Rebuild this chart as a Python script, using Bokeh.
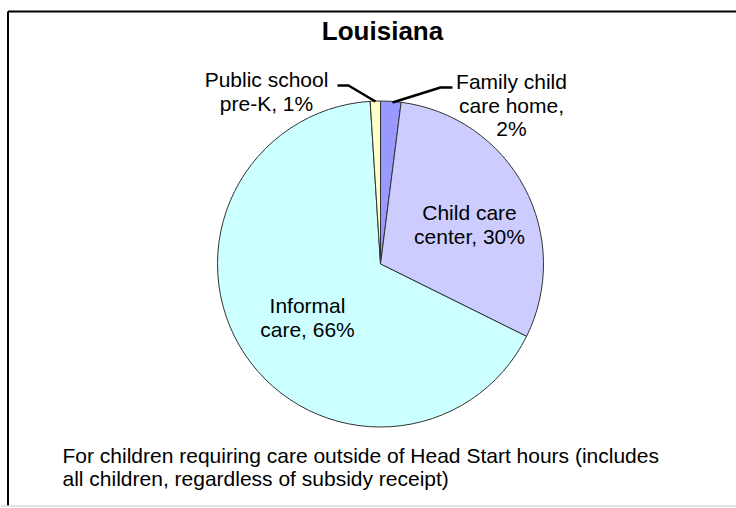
import numpy as np
from bokeh.plotting import figure
from bokeh.models import Range1d, ColumnDataSource
from bokeh.core.properties import value
from bokeh.embed import file_html
from bokeh.resources import INLINE

# ---- data ----
title_text = "Louisiana"
categories = ["Family child care home", "Child care center", "Informal care", "Public school pre-K"]
percents = [2, 30, 66, 1]
colors = ["#9999FF", "#CCCCFF", "#CCFFFF", "#FFFFCC"]
label_lines = [
    ["Family child", "care home,", "2%"],
    ["Child care", "center, 30%"],
    ["Informal", "care, 66%"],
    ["Public school", "pre-K, 1%"],
]
note_lines = [
    "For children requiring care outside of Head Start hours (includes",
    "all children, regardless of subsidy receipt)",
]

# ---- layout (page pixels) ----
W, H = 736, 508
def X(px):
    return px
def Y(py):
    return H - py

FONT = "Liberation Sans"
cx, cy, r = X(380), Y(263.5), 163

label_pos = [  # (center x, [line y middles]) in page px
    (511, [81, 105, 128]),
    (469, [212, 236]),
    (307, [305, 329]),
    (266, [79, 103]),
]

p = figure(width=W, height=H, output_backend="svg", toolbar_location=None,
           x_range=Range1d(0, W), y_range=Range1d(0, H), min_border=0)
p.axis.visible = False
p.grid.visible = False
p.outline_line_color = None
p.background_fill_color = "white"
p.border_fill_color = "white"

# frame
p.segment(x0=[X(7.5), X(7.5)], y0=[Y(11), Y(11)], x1=[W + 5, X(7.5)], y1=[Y(11), Y(505)],
          line_color="black", line_width=2)
p.segment(x0=[0], y0=[Y(505.5)], x1=[W], y1=[Y(505.5)], line_color="#c8c8c8", line_width=1)

# pie
total = float(sum(percents))
frac = np.array(percents) / total
cum = np.concatenate([[0], np.cumsum(frac)])
start = np.pi / 2 - 2 * np.pi * cum[:-1]
end = np.pi / 2 - 2 * np.pi * cum[1:]
src = ColumnDataSource(dict(cat=categories, start=start, end=end, color=colors))
p.wedge(x=cx, y=cy, radius=r, start_angle="start", end_angle="end", direction="clock",
        fill_color="color", line_color="#333333", line_width=1, source=src)

# leader lines
p.multi_line(xs=[[X(337), X(348), X(375)], [X(392), X(440), X(452)]],
             ys=[[Y(85), Y(85), Y(101)], [Y(102), Y(87), Y(87)]],
             line_color="black", line_width=2.5)

# labels
tx, ty, tt = [], [], []
for (lx, ys), lines in zip(label_pos, label_lines):
    for yy, t in zip(ys, lines):
        tx.append(X(lx)); ty.append(Y(yy)); tt.append(t)
p.text(x=tx, y=ty, text=tt, text_font=value(FONT), text_font_size="21px",
       text_align="center", text_baseline="middle", text_color="black")

# title
p.text(x=[X(382)], y=[Y(30)], text=[title_text], text_font=value(FONT), text_font_size="26px",
       text_font_style="bold", text_align="center", text_baseline="middle", text_color="black")

# note
p.text(x=[X(62), X(62)], y=[Y(455), Y(478)], text=note_lines, text_font=value(FONT),
       text_font_size="21px", text_align="left", text_baseline="middle", text_color="black")

open("out.html", "w").write(file_html(p, INLINE))
